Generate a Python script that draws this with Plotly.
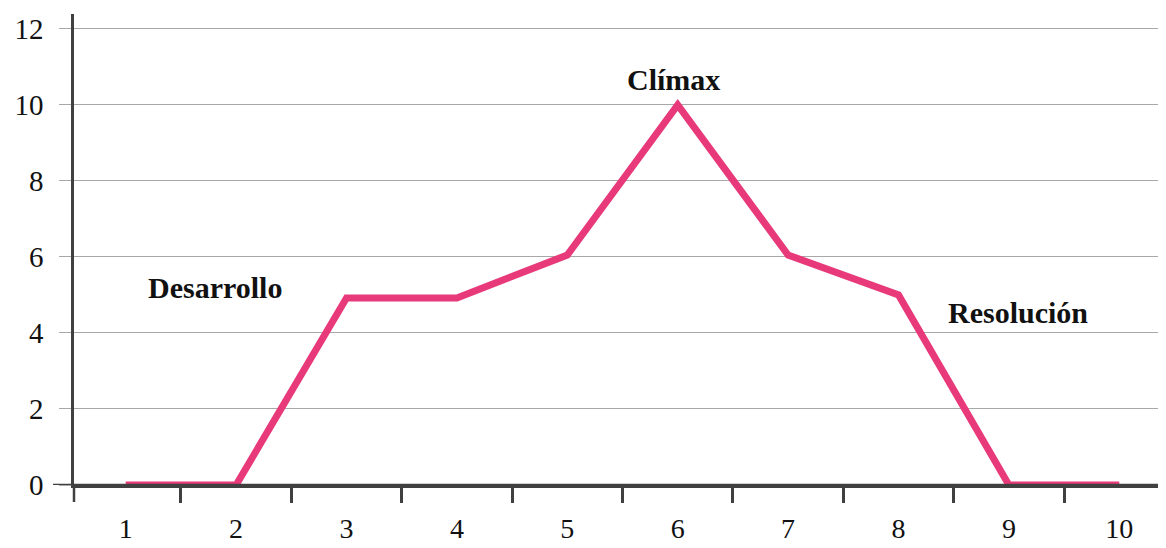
import plotly.graph_objects as go

categories = ["1", "2", "3", "4", "5", "6", "7", "8", "9", "10"]
values = [0, 0, 4.92, 4.92, 6.05, 10, 6.05, 5.0, 0, 0]
y_ticks = [0, 2, 4, 6, 8, 10, 12]
labels = [
    ("Desarrollo", 0.81, 5.2),
    ("Clímax", 4.96, 10.66),
    ("Resolución", 8.08, 4.55),
]

FONT = "Liberation Serif"
AXIS = "#404040"
GRID = "#a8a8a8"

fig = go.Figure()
fig.add_trace(go.Scatter(
    x=categories, y=values, mode="lines",
    line=dict(color="#E8397A", width=7),
    hoverinfo="skip", showlegend=False,
))

for text, xi, yi in labels:
    fig.add_annotation(
        x=xi, y=yi, xref="x", yref="y", text=f"<b>{text}</b>",
        showarrow=False, font=dict(family=FONT, size=30, color="#111111"),
    )

# page body has an 8px margin; compensate so the plot lands where the reference has it
OFF = 8
W, H = 1166 - OFF, 548 - OFF
L, R, T, B = 74 - OFF, 0, 14 - OFF, 63
pw = W - L - R
ph = H - T - B
step = 110.4
x0 = -0.5 + 3.5 / step
fig.add_shape(type="line", xref="paper", yref="y",
              x0=-21 / pw, x1=1, y0=0, y1=0,
              line=dict(color=AXIS, width=2.5))
fig.add_shape(type="line", xref="paper", yref="paper",
              x0=0, x1=0, y0=-17 / ph, y1=0,
              line=dict(color=AXIS, width=2.5))

fig.update_layout(
    width=W, height=H,
    margin=dict(l=L, r=R, t=T, b=B, autoexpand=False),
    plot_bgcolor="white", paper_bgcolor="white",
    font=dict(family=FONT, size=29, color="#111111"),
    xaxis=dict(
        type="category", categoryorder="array", categoryarray=categories,
        range=[x0, x0 + pw / step], automargin=False,
        tickson="boundaries", ticks="outside", ticklen=15, tickwidth=2.5,
        tickcolor=AXIS, showline=True, linecolor=AXIS, linewidth=2.5,
        showgrid=False, zeroline=False,
        tickfont=dict(family=FONT, size=28, color="#111111"),
        ticklabelstandoff=17,
    ),
    yaxis=dict(
        range=[0, 12.39], tickvals=y_ticks, automargin=False,
        ticks="outside", ticklen=12, tickcolor=GRID, tickwidth=1.2,
        showline=True, linecolor=AXIS, linewidth=2.5,
        showgrid=True, gridcolor=GRID, gridwidth=1.2, zeroline=False,
        tickfont=dict(family=FONT, size=29, color="#111111"),
        ticklabelstandoff=10,
    ),
)

fig.write_html("out.html")
